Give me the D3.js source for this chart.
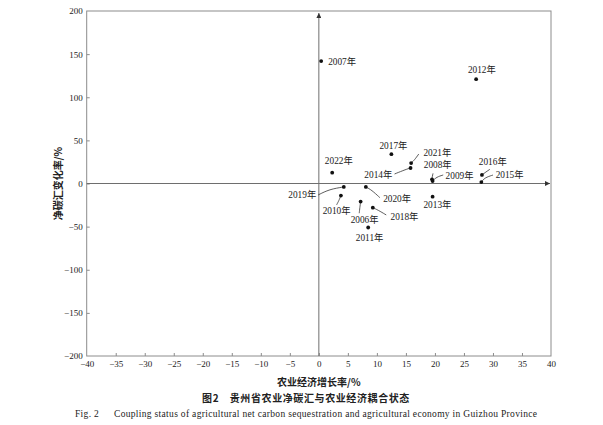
<!DOCTYPE html>
<html>
<head>
<meta charset="utf-8">
<script src="https://cdn.jsdelivr.net/npm/d3@7"></script>
<style>
    body { margin: 0; background: #fff; }
    text { fill: #222; }
    .tick-label { font-family: "Liberation Serif", "Noto Sans CJK SC", serif; font-size: 9px; }
    .point-label { font-family: "Liberation Serif", "Noto Sans CJK SC", serif; font-size: 9.3px; }
    .axis-title { font-family: "Noto Sans CJK SC", sans-serif; font-size: 10px; }
</style>
</head>
<body>
<div id="svg_container"></div>
<script>
// data: agricultural growth rate (%) vs net carbon sink change (%)
var years = [2006, 2007, 2008, 2009, 2010, 2011, 2012, 2013, 2014,
    2015, 2016, 2017, 2018, 2019, 2020, 2021, 2022];
var growthRate = [7.2, 0.4, 19.5, 19.6, 3.8, 8.5, 27.1, 19.6, 15.8,
    28.0, 28.1, 12.5, 9.3, 4.3, 8.1, 15.9, 2.3];
var carbonChange = [-21, 142, 4.8, 2.9, -14, -51, 121, -15.3, 18,
    1.7, 9.9, 34, -28, -4, -4, 23.7, 12.5];
var xTicks = d3.range(-40, 41, 5);
var yTicks = d3.range(-200, 201, 50);

var xTitle = "农业经济增长率/%";
var yTitle = "净碳汇变化率/%";
var captionCn = "图2　贵州省农业净碳汇与农业经济耦合状态";
var captionEn = "Fig. 2\u2003\u2002Coupling status of agricultural net carbon sequestration and agricultural economy in Guizhou Province";

// label placement, pixel offsets from the point (and leader line bends)
var labelLayout = {
    2006: {dx: 4, dy: 18.3, anchor: "middle", leader: [[0, 0], [-0.8, 6], [-1.4, 11.6]]},
    2007: {dx: 7, dy: 1, anchor: "start"},
    2008: {dx: 5.7, dy: -15, anchor: "middle", leader: [[0, 0], [0.3, -3], [1, -6]]},
    2009: {dx: 13, dy: -5.3, anchor: "start", leader: [[0, 0], [4, -4], [10.6, -6]]},
    2010: {dx: -4.3, dy: 15.3, anchor: "middle", leader: [[0, 0], [-2, 5], [-4.3, 9.3]]},
    2011: {dx: 1.4, dy: 9.8, anchor: "middle"},
    2012: {dx: 5.7, dy: -9, anchor: "middle"},
    2013: {dx: 4.8, dy: 8.5, anchor: "middle"},
    2014: {dx: -18.3, dy: 6.3, anchor: "end", leader: [[0, 0], [-4.3, 1.3], [-16, 6]]},
    2015: {dx: 14.3, dy: -7.7, anchor: "start", leader: [[0, 0], [3.3, -4.3], [11.6, -7]]},
    2016: {dx: 10.8, dy: -13.3, anchor: "middle", leader: [[0, 0], [4, -3], [8, -5.7]]},
    2017: {dx: 2, dy: -8.5, anchor: "middle"},
    2018: {dx: 17.7, dy: 9, anchor: "start", leader: [[0, 0], [5, 2.3], [13.4, 7.3]]},
    2019: {dx: -27.6, dy: 8, anchor: "end", leader: [[0, 0], [-14.3, 2.3], [-25.6, 8]]},
    2020: {dx: 17.3, dy: 11.3, anchor: "start", leader: [[0, 0], [5.7, 3], [14, 10.7]]},
    2021: {dx: 12.3, dy: -10.7, anchor: "start", leader: [[0, 0], [3.3, -3], [7.6, -9]]},
    2022: {dx: 6.6, dy: -11.7, anchor: "middle"}
};

var width = 603, height = 425;
var plot = {left: 86.7, right: 551, top: 11, bottom: 356};
var frameColor = "#8c8c8c";
var axisColor = "#6e6e6e";

var svg = d3.select("#svg_container")
        .append("svg")
        .attr("width", width)
        .attr("height", height);

svg.append("defs").append("marker")
        .attr("id", "arrow")
        .attr("viewBox", "0 0 10 10")
        .attr("refX", 10)
        .attr("refY", 5)
        .attr("markerWidth", 7)
        .attr("markerHeight", 5)
        .attr("markerUnits", "userSpaceOnUse")
        .attr("orient", "auto")
        .append("path")
        .attr("d", "M0,0L10,5L0,10Z")
        .attr("fill", "#333");

var x = d3.scaleLinear().domain([-40, 40]).range([plot.left, plot.right]);
var y = d3.scaleLinear().domain([-200, 200]).range([plot.bottom, plot.top]);

// frame
svg.append("rect")
        .attr("x", plot.left)
        .attr("y", plot.top)
        .attr("width", plot.right - plot.left)
        .attr("height", plot.bottom - plot.top)
        .attr("fill", "none")
        .attr("stroke", frameColor)
        .attr("stroke-width", 1);

// axes, ticks pointing inward
var xAxisG = svg.append("g")
        .attr("transform", "translate(0," + plot.bottom + ")")
        .call(d3.axisBottom(x).tickValues(xTicks).tickSizeInner(-3).tickSizeOuter(0).tickPadding(5));
var yAxisG = svg.append("g")
        .attr("transform", "translate(" + plot.left + ",0)")
        .call(d3.axisLeft(y).tickValues(yTicks).tickSizeInner(-3).tickSizeOuter(0).tickPadding(4));

[xAxisG, yAxisG].forEach(function (g) {
    g.select(".domain").remove();
    g.selectAll(".tick line").attr("stroke", frameColor);
    g.selectAll(".tick text")
            .attr("class", "tick-label")
            .attr("fill", "#222");
    g.attr("font-size", null).attr("font-family", null);
});
// no inner tick marks on the frame corners
xAxisG.selectAll(".tick line").filter(function (d) { return d === -40 || d === 40; }).remove();
yAxisG.selectAll(".tick line").filter(function (d) { return d === -200 || d === 200; }).remove();

// zero axes with arrows
svg.append("line")
        .attr("x1", plot.left)
        .attr("x2", plot.right - 1)
        .attr("y1", y(0))
        .attr("y2", y(0))
        .attr("stroke", axisColor)
        .attr("stroke-width", 1)
        .attr("marker-end", "url(#arrow)");
svg.append("line")
        .attr("x1", x(0))
        .attr("x2", x(0))
        .attr("y1", plot.bottom)
        .attr("y2", plot.top + 2)
        .attr("stroke", axisColor)
        .attr("stroke-width", 1)
        .attr("marker-end", "url(#arrow)");

var points = years.map(function (yr, i) {
    return {year: yr, gx: growthRate[i], gy: carbonChange[i]};
});

var leaderLine = d3.line().curve(d3.curveBasis);

var pg = svg.append("g");
points.forEach(function (p) {
    var px = x(p.gx), py = y(p.gy);
    var lay = labelLayout[p.year];
    if (lay.leader) {
        pg.append("path")
                .attr("d", leaderLine(lay.leader.map(function (o) { return [px + o[0], py + o[1]]; })))
                .attr("fill", "none")
                .attr("stroke", "#333")
                .attr("stroke-width", 0.8);
    }
    pg.append("circle")
            .attr("cx", px)
            .attr("cy", py)
            .attr("r", 1.9)
            .attr("fill", "#111");
    pg.append("text")
            .attr("class", "point-label")
            .attr("x", px + lay.dx)
            .attr("y", py + lay.dy)
            .attr("dy", "0.35em")
            .attr("text-anchor", lay.anchor)
            .text(p.year + "年");
});

// axis titles
svg.append("text")
        .attr("class", "axis-title")
        .attr("text-anchor", "middle")
        .attr("x", (plot.left + plot.right) / 2)
        .attr("y", 382)
        .attr("dy", "0.35em")
        .style("font-weight", "bold")
        .text(xTitle);
svg.append("text")
        .attr("class", "axis-title")
        .attr("text-anchor", "middle")
        .attr("transform", "translate(58.5," + y(0) + ")rotate(-90)")
        .attr("dy", "0.35em")
        .style("font-weight", "bold")
        .text(yTitle);

// captions
svg.append("text")
        .attr("text-anchor", "middle")
        .attr("x", 306)
        .attr("y", 398)
        .attr("dy", "0.35em")
        .style("font-family", "'Noto Sans CJK SC', sans-serif")
        .style("font-size", "10px")
        .style("font-weight", "bold")
        .style("letter-spacing", "0.6px")
        .text(captionCn);
svg.append("text")
        .attr("x", 75)
        .attr("y", 414)
        .attr("dy", "0.35em")
        .attr("textLength", 462)
        .attr("lengthAdjust", "spacing")
        .style("font-family", "'Liberation Serif', serif")
        .style("font-size", "9.5px")
        .style("white-space", "pre")
        .text(captionEn);
</script>
</body>
</html>
